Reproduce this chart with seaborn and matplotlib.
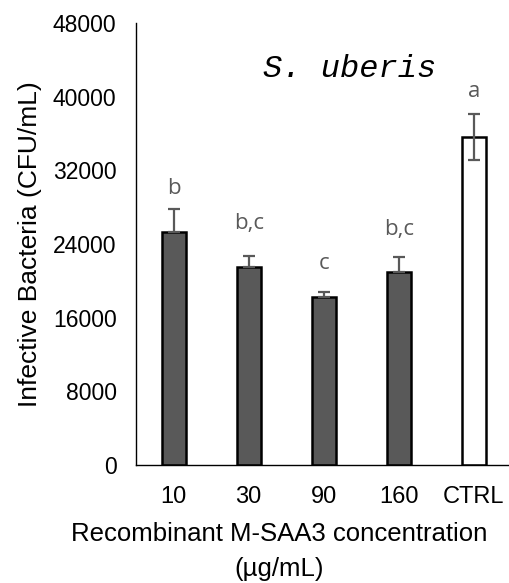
import matplotlib
matplotlib.use("Agg")
import matplotlib.pyplot as plt
import seaborn as sns
import pandas as pd

categories = ["10", "30", "90", "160", "CTRL"]
values = [25300, 21500, 18200, 21000, 35600]
err_upper = [2500, 1200, 600, 1550, 2500]
err_lower = [0, 0, 0, 0, 2500]
letters = ["b", "b,c", "c", "b,c", "a"]
letter_y = [30000, 26200, 21900, 25600, 40600]
bar_colors = ["#595959", "#595959", "#595959", "#595959", "#ffffff"]
yticks = [0, 8000, 16000, 24000, 32000, 40000, 48000]

sns.set_theme(style="white")
plt.rcParams["font.family"] = ["Liberation Sans", "DejaVu Sans"]
plt.rcParams["text.color"] = "black"
plt.rcParams["axes.labelcolor"] = "black"
plt.rcParams["xtick.color"] = "black"
plt.rcParams["ytick.color"] = "black"

df = pd.DataFrame({"cat": categories, "val": values})

fig = plt.figure(figsize=(5.09, 5.83), dpi=100)
ax = fig.add_axes([136/509, 1-465/583, 1-136/509, (465-23)/583])

sns.barplot(data=df, x="cat", y="val", hue="cat", palette=bar_colors,
            width=0.32, edgecolor="black", linewidth=1.8, legend=False,
            errorbar=None, ax=ax, zorder=2)

ax.errorbar(range(len(categories)), values, yerr=[err_lower, err_upper],
            fmt="none", ecolor="#595959", elinewidth=1.6, capsize=4.5,
            capthick=1.6, zorder=3)

for i, (t, yy) in enumerate(zip(letters, letter_y)):
    ax.text(i, yy, t, ha="center", va="center", fontsize=16,
            color="#595959", family=["Open Sans", "DejaVu Sans"])

ax.text(2.35, 43000, "S. uberis", ha="center", va="center", fontsize=23,
        style="italic", family=["Liberation Mono", "DejaVu Sans Mono"],
        color="black")

ax.set_xlim(-0.5, (509-174)/75)
ax.set_ylim(0, 48000)
ax.set_yticks(yticks)
ax.set_yticklabels([str(v) for v in yticks], fontsize=16.5)
ax.tick_params(axis="x", labelsize=17, pad=15, length=0, colors="black")
ax.tick_params(axis="y", pad=14, length=0, colors="black")
ax.set_xlabel("Recombinant M-SAA3 concentration\n(µg/mL)", fontsize=18.5,
              linespacing=1.55, color="black")
ax.xaxis.set_label_coords(0.383, -0.13)
ax.set_ylabel("Infective Bacteria (CFU/mL)", fontsize=19, color="black")
ax.yaxis.set_label_coords(-0.252, 0.5)

for s in ["top", "right"]:
    ax.spines[s].set_visible(False)
for s in ["left", "bottom"]:
    ax.spines[s].set_color("black")
    ax.spines[s].set_linewidth(1.0)

fig.savefig("out.png", dpi=100)
